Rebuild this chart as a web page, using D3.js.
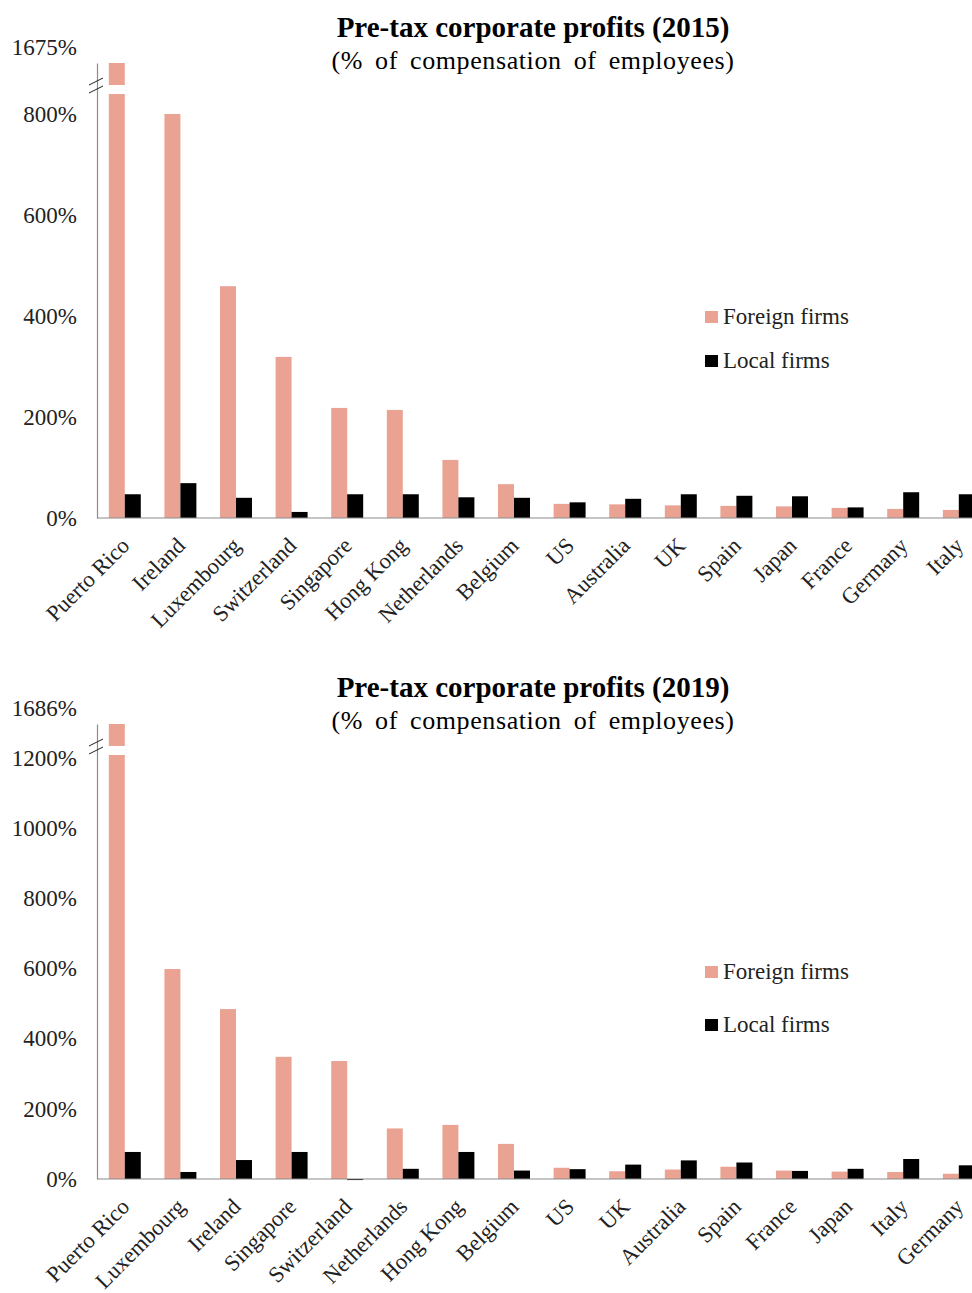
<!DOCTYPE html>
<html>
<head>
<meta charset="utf-8">
<script src="https://cdn.jsdelivr.net/npm/d3@7"></script>
<style>
  body { margin: 0; background: #fff; }
  svg { display: block; font-family: "Liberation Serif", "DejaVu Serif", serif; }
  .title { font-weight: bold; font-size: 29px; }
  .subtitle { font-size: 26px; letter-spacing: 0.6px; word-spacing: 5px; }
  .tick text, .top-label { font-size: 23px; fill: #222; }
  .cat-label { font-size: 22.5px; fill: #222; }
  .legend text { font-size: 23px; fill: #222; }
</style>
</head>
<body>
<svg id="chart" width="972" height="1293"></svg>
<script>
// 2015 data
const categories2015 = ["Puerto Rico", "Ireland", "Luxembourg", "Switzerland", "Singapore", "Hong Kong",
  "Netherlands", "Belgium", "US", "Australia", "UK", "Spain", "Japan", "France", "Germany", "Italy"];
const foreign2015 = [1675, 800, 459, 319, 218, 214, 115, 67, 28, 27, 25, 24, 23, 20, 18, 16];
const local2015 = [47, 69, 40, 12, 47, 47, 41, 40, 31, 38, 47, 44, 43, 21, 51, 47];
const ticks2015 = [0, 200, 400, 600, 800];

// 2019 data
const categories2019 = ["Puerto Rico", "Luxembourg", "Ireland", "Singapore", "Switzerland", "Netherlands",
  "Hong Kong", "Belgium", "US", "UK", "Australia", "Spain", "France", "Japan", "Italy", "Germany"];
const foreign2019 = [1686, 598, 484, 348, 336, 144, 154, 100, 32, 22, 27, 35, 24, 21, 20, 15];
const local2019 = [77, 20, 54, 77, -3, 29, 77, 24, 28, 41, 53, 47, 23, 29, 57, 39];
const ticks2019 = [0, 200, 400, 600, 800, 1000, 1200];

const seriesNames = ["Foreign firms", "Local firms"];
const colors = ["#eaa292", "#000000"];

const svg = d3.select("#chart");

const barChart = (parent, props) => {
  const { title, subtitle, categories, foreign, local, ticks, yMax,
          top, bottom, titleY, legendY, legendGap } = props;

  const x0 = d3.scaleBand()
    .domain(categories)
    .range([97, 97 + categories.length * 55.6])
    .paddingInner(0.425)
    .paddingOuter(0.2125);
  const x1 = d3.scaleBand()
    .domain(seriesNames)
    .range([0, x0.bandwidth()]);
  const y = d3.scaleLinear()
    .domain([0, yMax])
    .range([bottom, top]);

  const g = parent.append("g");

  // titles
  g.append("text").attr("class", "title")
    .attr("x", 533).attr("y", titleY)
    .attr("text-anchor", "middle")
    .text(title);
  g.append("text").attr("class", "subtitle")
    .attr("x", 533).attr("y", titleY + 32)
    .attr("text-anchor", "middle")
    .text(subtitle);

  // bars
  const rows = categories.map((c, i) => ({ cat: c, values: [foreign[i], local[i]] }));
  const groups = g.selectAll(".group").data(rows)
    .enter().append("g")
      .attr("class", "group")
      .attr("transform", d => `translate(${x0(d.cat)},0)`);

  groups.selectAll("rect")
    .data(d => d.values.map((v, j) => ({ key: seriesNames[j], v: v, color: colors[j] })))
    .enter().append("rect")
      .attr("x", d => x1(d.key))
      .attr("width", x1.bandwidth())
      .attr("y", d => y(Math.min(Math.max(d.v, 0), yMax)))
      .attr("height", d => Math.max(Math.abs(y(Math.min(d.v, yMax)) - y(0)), 1))
      .attr("fill", d => d.color);

  // break in bars that run past the axis
  groups.filter(d => d.values[0] > yMax)
    .append("rect")
      .attr("x", x1("Foreign firms") - 1)
      .attr("width", x1.bandwidth() + 2)
      .attr("y", y(yMax) + 22)
      .attr("height", 9)
      .attr("fill", "#fff");

  // y axis
  const axis = g.append("g")
    .attr("transform", "translate(97,0)")
    .call(d3.axisLeft(y).tickValues(ticks).tickSize(0).tickPadding(20)
      .tickFormat(d => d + "%"));
  axis.attr("font-family", null).attr("font-size", null);
  axis.select(".domain").attr("stroke", "#8c8c8c").attr("stroke-width", 1.2);

  g.append("text").attr("class", "top-label")
    .attr("x", 77).attr("y", top - 8)
    .attr("text-anchor", "end")
    .text(d3.max(foreign) + "%");

  // break marks on the axis
  const by = y(yMax) + 22;
  [-4, 4].forEach(o => {
    g.append("line")
      .attr("x1", 89).attr("y1", by + o + 4)
      .attr("x2", 103).attr("y2", by + o - 3)
      .attr("stroke", "#222").attr("stroke-width", 1);
  });

  // baseline
  g.append("line")
    .attr("x1", 97).attr("x2", 972)
    .attr("y1", y(0)).attr("y2", y(0))
    .attr("stroke", "#8c8c8c").attr("stroke-width", 1.2);

  // category labels
  g.selectAll(".cat-label").data(categories)
    .enter().append("text")
      .attr("class", "cat-label")
      .attr("text-anchor", "end")
      .attr("transform", d => `translate(${x0(d) + x0.bandwidth() / 2 + 6},${bottom + 29}) rotate(-45)`)
      .text(d => d);

  // legend
  const legend = g.append("g").attr("class", "legend")
    .attr("transform", `translate(705,${legendY})`);
  seriesNames.forEach((name, i) => {
    const row = legend.append("g").attr("transform", `translate(0,${i * legendGap})`);
    row.append("rect").attr("x", 0).attr("y", -6).attr("width", 13).attr("height", 12)
      .attr("fill", colors[i]);
    row.append("text").attr("x", 18).attr("y", 7).text(name);
  });
};

barChart(svg, {
  title: "Pre-tax corporate profits (2015)",
  subtitle: "(% of compensation of employees)",
  categories: categories2015, foreign: foreign2015, local: local2015,
  ticks: ticks2015, yMax: 901, top: 63, bottom: 518,
  titleY: 37, legendY: 317, legendGap: 44
});

barChart(svg, {
  title: "Pre-tax corporate profits (2019)",
  subtitle: "(% of compensation of employees)",
  categories: categories2019, foreign: foreign2019, local: local2019,
  ticks: ticks2019, yMax: 1296, top: 724, bottom: 1179,
  titleY: 697, legendY: 972, legendGap: 53
});
</script>
</body>
</html>
